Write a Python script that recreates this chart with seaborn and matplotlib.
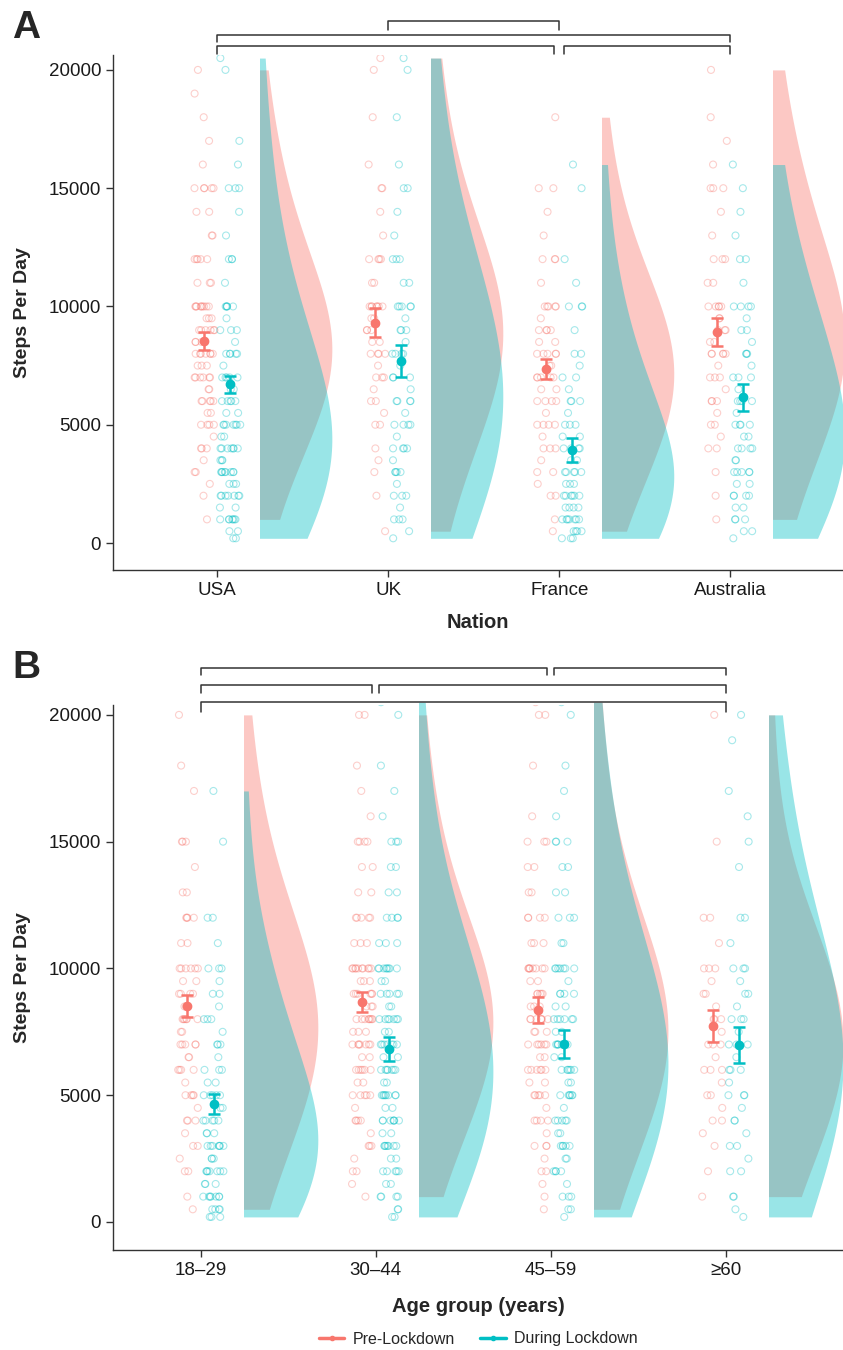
import numpy as np
import pandas as pd
import matplotlib
matplotlib.use("Agg")
import matplotlib.pyplot as plt
from matplotlib.patches import Rectangle
from matplotlib.lines import Line2D
import seaborn as sns

sns.set_style("ticks")
plt.rcParams["font.family"] = ["Liberation Sans", "DejaVu Sans"]

PRE_COLOR = "#F8766D"
DUR_COLOR = "#00BFC4"

# step values that the points sit on (read from the rows of points)
LEVELS = [20500, 20000, 19000, 18000, 17000, 16000, 15000, 14000, 13000, 12000,
          11000, 10000, 9500, 9000, 8500, 8000, 7500, 7000, 6500, 6000,
          5500, 5000, 4500, 4000, 3500, 3000, 2500, 2000, 1500, 1000, 500, 200]

NATIONS = ["USA", "UK", "France", "Australia"]
AGES = ["18\u201329", "30\u201344", "45\u201359", "\u226560"]

# number of respondents at each level (estimated)
USA_PRE = [0, 1, 1, 1, 1, 1, 5, 2, 2, 5, 3, 9, 3, 6, 3, 7, 3, 6, 2, 5, 2, 4, 1, 3, 1, 2, 1, 1, 0, 1, 0, 0]
USA_DUR = [1, 1, 0, 0, 1, 1, 3, 1, 1, 3, 1, 5, 1, 3, 1, 5, 1, 5, 2, 5, 2, 7, 2, 7, 3, 8, 3, 7, 2, 7, 2, 2]
UK_PRE = [1, 1, 0, 1, 0, 1, 2, 1, 1, 4, 2, 7, 2, 3, 2, 4, 1, 3, 1, 2, 1, 2, 0, 1, 1, 1, 0, 1, 0, 0, 1, 0]
UK_DUR = [1, 1, 0, 1, 0, 1, 2, 1, 1, 3, 2, 5, 1, 3, 1, 4, 1, 3, 1, 4, 1, 4, 1, 4, 1, 4, 1, 3, 1, 3, 1, 1]
FR_PRE = [0, 0, 0, 1, 0, 0, 2, 1, 1, 3, 1, 5, 1, 4, 2, 5, 2, 5, 2, 4, 1, 4, 1, 3, 1, 2, 1, 2, 0, 1, 1, 0]
FR_DUR = [0, 0, 0, 0, 0, 1, 1, 0, 0, 1, 1, 3, 0, 1, 0, 2, 1, 2, 1, 3, 1, 3, 2, 4, 2, 5, 3, 6, 4, 7, 4, 3]
AU_PRE = [0, 1, 0, 1, 1, 1, 3, 1, 1, 3, 2, 5, 2, 3, 2, 5, 1, 3, 1, 3, 1, 2, 1, 2, 0, 1, 0, 1, 0, 1, 0, 0]
AU_DUR = [0, 0, 0, 0, 0, 1, 1, 1, 1, 2, 1, 4, 1, 2, 1, 3, 1, 3, 1, 4, 1, 4, 2, 4, 2, 5, 2, 4, 2, 3, 2, 1]

A1_PRE = [0, 1, 0, 1, 1, 0, 3, 1, 2, 4, 2, 6, 2, 4, 2, 6, 2, 5, 2, 4, 1, 4, 1, 3, 1, 2, 1, 2, 0, 1, 1, 0]
A1_DUR = [0, 0, 0, 0, 1, 0, 1, 0, 0, 2, 1, 3, 1, 2, 1, 3, 1, 3, 1, 3, 2, 5, 2, 5, 3, 7, 3, 7, 3, 7, 4, 3]
A2_PRE = [0, 2, 0, 1, 1, 1, 4, 2, 2, 5, 3, 10, 3, 6, 3, 8, 3, 7, 2, 6, 2, 5, 1, 4, 1, 3, 1, 2, 1, 1, 0, 0]
A2_DUR = [1, 1, 0, 1, 1, 1, 3, 2, 2, 4, 3, 8, 2, 5, 2, 7, 2, 7, 2, 7, 2, 8, 2, 7, 2, 7, 2, 5, 2, 4, 2, 2]
A3_PRE = [1, 2, 0, 1, 0, 1, 3, 2, 2, 4, 3, 8, 2, 5, 3, 7, 3, 6, 2, 6, 2, 5, 1, 4, 1, 3, 1, 2, 1, 1, 1, 0]
A3_DUR = [1, 1, 0, 1, 1, 1, 3, 2, 2, 3, 2, 7, 1, 4, 2, 6, 2, 6, 2, 6, 2, 6, 1, 5, 2, 5, 2, 4, 1, 3, 2, 1]
A4_PRE = [0, 1, 0, 0, 0, 0, 1, 0, 0, 2, 1, 3, 1, 2, 1, 3, 1, 3, 1, 3, 1, 2, 1, 2, 1, 1, 0, 1, 0, 1, 0, 0]
A4_DUR = [0, 1, 1, 0, 1, 1, 1, 1, 0, 2, 1, 3, 1, 2, 1, 3, 1, 3, 1, 3, 1, 3, 1, 2, 1, 2, 1, 2, 0, 2, 1, 1]

# group means and error bar half-widths
NATION_PRE_MEAN = [8550, 9320, 7360, 8920]
NATION_PRE_ERR = [370, 600, 420, 610]
NATION_DUR_MEAN = [6720, 7700, 3930, 6170]
NATION_DUR_ERR = [360, 680, 510, 570]
AGE_PRE_MEAN = [8520, 8680, 8350, 7730]
AGE_PRE_ERR = [430, 390, 520, 650]
AGE_DUR_MEAN = [4650, 6820, 7020, 6980]
AGE_DUR_ERR = [390, 470, 550, 710]

# significance brackets: (left group, right group, bar height, tip height)
NATION_BRACKETS = [(1, 2, 22050, 21700), (0, 3, 21480, 21180),
                   (0, 1.97, 21000, 20680), (2.03, 3, 21000, 20680)]
AGE_BRACKETS = [(0, 1.98, 21850, 21580), (2.02, 3, 21850, 21580),
                (0, 0.98, 21180, 20870), (1.02, 3, 21180, 20870),
                (0, 3, 20510, 20120)]


def long_table(counts_list, shift):
    rows = []
    for i, counts in enumerate(counts_list):
        vals = np.repeat(LEVELS, counts)
        rows.append(pd.DataFrame({"pos": i + shift, "steps": vals}))
    return pd.concat(rows, ignore_index=True)


def half_violins(ax, df, color):
    n0 = len(ax.collections)
    sns.violinplot(data=df, x="pos", y="steps", native_scale=True, orient="x",
                   color=color, saturation=1, inner=None, cut=0,
                   density_norm="width", width=0.84, linewidth=0,
                   bw_adjust=1.9, ax=ax)
    # keep only the right half of every violin
    for coll in ax.collections[n0:]:
        coll.set_alpha(0.4)
        verts = coll.get_paths()[0].vertices
        cx = (verts[:, 0].min() + verts[:, 0].max()) / 2
        clip = Rectangle((cx, -1e6), 10, 2e6, transform=ax.transData)
        coll.set_clip_path(clip)


def open_points(ax, df, color):
    n0 = len(ax.collections)
    sns.stripplot(data=df, x="pos", y="steps", native_scale=True, orient="x",
                  color=color, jitter=0.06, size=5, ax=ax)
    for coll in ax.collections[n0:]:
        coll.set_facecolor("none")
        coll.set_edgecolor(color)
        coll.set_linewidth(0.8)
        coll.set_alpha(0.35)


def draw_panel(ax, pre_counts, dur_counts, pre_mean, pre_err, dur_mean, dur_err,
               labels, brackets, xlabel, xlim, ylim):
    half_violins(ax, long_table(pre_counts, 0.25), PRE_COLOR)
    half_violins(ax, long_table(dur_counts, 0.25), DUR_COLOR)
    open_points(ax, long_table(pre_counts, -0.075), PRE_COLOR)
    open_points(ax, long_table(dur_counts, 0.075), DUR_COLOR)

    xs = np.arange(len(labels))
    ax.errorbar(xs - 0.075, pre_mean, yerr=pre_err, fmt="o", color=PRE_COLOR,
                ms=6, elinewidth=1.8, capsize=4.5, capthick=1.8, zorder=5)
    ax.errorbar(xs + 0.075, dur_mean, yerr=dur_err, fmt="o", color=DUR_COLOR,
                ms=6, elinewidth=1.8, capsize=4.5, capthick=1.8, zorder=5)

    for a, b, top, tip in brackets:
        ax.plot([a, a, b, b], [tip, top, top, tip], color="#333333", lw=1.1,
                clip_on=False, zorder=6)

    ax.set_xlim(*xlim)
    ax.set_ylim(*ylim)
    ax.set_xticks(xs)
    ax.set_xticklabels(labels)
    ax.set_yticks([0, 5000, 10000, 15000, 20000])
    ax.set_yticklabels(["0", "5000", "10000", "15000", "20000"])
    ax.tick_params(labelsize=13.5, length=5, width=1, color="#333333",
                   labelcolor="#1a1a1a")
    ax.set_xlabel(xlabel, fontsize=14.5, fontweight="bold")
    ax.set_ylabel("Steps Per Day", fontsize=14, fontweight="bold")
    ax.xaxis.label.set_va("center")
    ax.yaxis.label.set_va("center")
    sns.despine(ax=ax)
    for side in ["left", "bottom"]:
        ax.spines[side].set_color("#333333")
        ax.spines[side].set_linewidth(1)


fig = plt.figure(figsize=(8.43, 13.5), dpi=100)
ax_a = fig.add_axes([113 / 843, 1 - 570 / 1350, 730 / 843, 515 / 1350])
ax_b = fig.add_axes([113 / 843, 1 - 1250 / 1350, 730 / 843, 545 / 1350])

np.random.seed(11)
draw_panel(ax_a, [USA_PRE, UK_PRE, FR_PRE, AU_PRE], [USA_DUR, UK_DUR, FR_DUR, AU_DUR],
           NATION_PRE_MEAN, NATION_PRE_ERR, NATION_DUR_MEAN, NATION_DUR_ERR,
           NATIONS, NATION_BRACKETS, "Nation", (-0.61, 3.66), (-1140, 20630))
draw_panel(ax_b, [A1_PRE, A2_PRE, A3_PRE, A4_PRE], [A1_DUR, A2_DUR, A3_DUR, A4_DUR],
           AGE_PRE_MEAN, AGE_PRE_ERR, AGE_DUR_MEAN, AGE_DUR_ERR,
           AGES, AGE_BRACKETS, "Age group (years)", (-0.5, 3.67), (-1105, 20390))

ax_a.xaxis.set_label_coords(0.5, (570 - 622) / 515)
ax_a.yaxis.set_label_coords((22 - 113) / 730, 0.5)
ax_b.xaxis.set_label_coords(0.5, (1250 - 1306) / 545)
ax_b.yaxis.set_label_coords((22 - 113) / 730, 0.5)

fig.text(12 / 843, 1 - 10 / 1350, "A", fontsize=28, fontweight="bold", va="top")
fig.text(12 / 843, 1 - 650 / 1350, "B", fontsize=28, fontweight="bold", va="top")

handles = [Line2D([0], [0], color=PRE_COLOR, lw=2.5, marker="o", ms=3),
           Line2D([0], [0], color=DUR_COLOR, lw=2.5, marker="o", ms=3)]
fig.legend(handles, ["Pre-Lockdown", "During Lockdown"], loc="center",
           bbox_to_anchor=(478 / 843, 1 - 1339 / 1350), ncol=2, frameon=False,
           fontsize=11.5, handlelength=1.6, columnspacing=1.6, handletextpad=0.5)

fig.savefig("out.png", dpi=100)
